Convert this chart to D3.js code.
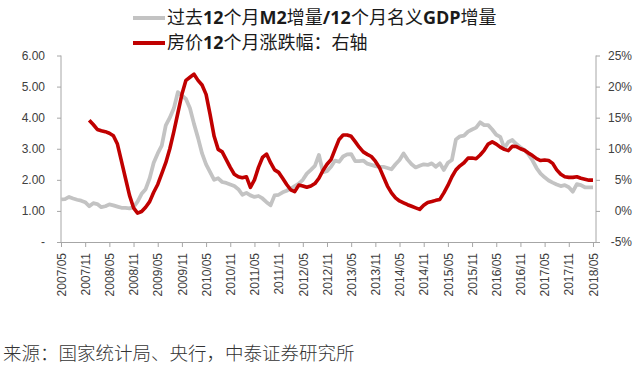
<!DOCTYPE html>
<html><head><meta charset="utf-8">
<script src="https://cdn.jsdelivr.net/npm/d3@7"></script>
<style>body{margin:0;background:#fff}svg{display:block}</style>
</head><body>
<svg id="c" width="640" height="372"></svg>
<script>
// ---- data ----
const xTickLabels = ["2007/05","2007/11","2008/05","2008/11","2009/05","2009/11","2010/05","2010/11","2011/05","2011/11","2012/05","2012/11","2013/05","2013/11","2014/05","2014/11","2015/05","2015/11","2016/05","2016/11","2017/05","2017/11","2018/05"];
const startMonth = "2007/05";
// M2 increment / nominal GDP increment (left axis), monthly from 2007/05
const m2Ratio = [1.37,1.38,1.45,1.40,1.36,1.33,1.28,1.15,1.25,1.22,1.12,1.15,1.21,1.18,1.14,1.10,1.10,1.08,1.12,1.30,
  1.55,1.70,2.05,2.55,2.85,3.10,3.75,4.00,4.30,4.82,4.72,4.60,4.30,3.80,3.35,2.85,2.50,2.25,2.00,2.05,
  1.93,1.90,1.85,1.80,1.70,1.52,1.58,1.50,1.45,1.48,1.40,1.28,1.18,1.50,1.52,1.60,1.65,1.72,1.80,1.88,
  2.00,2.20,2.32,2.45,2.80,2.25,2.28,2.42,2.62,2.58,2.75,2.82,2.83,2.60,2.60,2.62,2.52,2.48,2.44,2.42,
  2.42,2.38,2.34,2.50,2.64,2.85,2.65,2.50,2.40,2.45,2.50,2.48,2.53,2.42,2.53,2.32,2.55,2.64,3.30,3.40,
  3.42,3.55,3.62,3.68,3.85,3.76,3.76,3.62,3.45,3.38,3.02,3.22,3.28,3.15,3.05,2.96,2.82,2.62,2.38,2.20,
  2.08,1.98,1.91,1.85,1.80,1.83,1.76,1.62,1.86,1.83,1.76,1.76,1.76];
// house price 12-month change (%), right axis, monthly from 2007/12
const housePriceStart = 7;
const housePrice = [14.6,13.9,13.1,12.9,12.75,12.5,12.1,10.75,8.0,5.25,2.5,0.5,-0.35,-0.1,0.6,1.5,3.0,4.25,6.0,7.75,
  10.0,12.75,15.75,18.75,21.0,21.5,22.0,21.0,20.25,18.75,15.5,12.0,9.9,9.5,8.25,7.0,5.9,5.5,5.35,5.5,
  3.8,5.0,7.0,8.6,9.15,7.75,6.6,6.2,5.25,4.25,3.4,3.1,4.15,4.0,3.8,4.0,4.4,5.25,6.5,7.5,
  8.25,9.9,11.5,12.2,12.2,12.0,11.15,10.25,9.5,9.1,8.75,8.0,7.0,5.5,4.0,2.9,2.1,1.6,1.3,1.0,
  0.75,0.5,0.25,0.9,1.35,1.5,1.7,1.85,2.9,4.1,5.5,6.6,7.25,7.75,8.5,8.5,8.4,9.0,9.75,10.75,
  11.1,10.75,10.25,9.9,9.7,10.4,10.35,10.0,9.75,9.3,8.9,8.4,8.1,8.2,8.1,7.65,6.6,5.9,5.5,5.4,
  5.4,5.5,5.25,5.1,4.95,4.95];
const leftTicks = [0,1,2,3,4,5,6];
const leftTickLabels = ["-","1.00","2.00","3.00","4.00","5.00","6.00"];
const rightTicks = [-5,0,5,10,15,20,25];
const rightTickLabels = ["-5%","0%","5%","10%","15%","20%","25%"];
const legendLabels = ["过去12个月M2增量/12个月名义GDP增量","房价12个月涨跌幅：右轴"];
const sourceText = "来源：国家统计局、央行，中泰证券研究所";

// ---- chart ----
const svg = d3.select("#c");
const x = d3.scaleLinear().domain([0,132.75]).range([61,596]);
const yL = d3.scaleLinear().domain([0,6]).range([242,55.5]);
const yR = d3.scaleLinear().domain([-5,25]).range([242,55.5]);
const axisColor = "#a6a6a6";
const textColor = "#404040";
const font = "'Liberation Sans', Arial, sans-serif";

// left axis
const gL = svg.append("g").attr("transform","translate(61,0)")
  .call(d3.axisLeft(yL).tickValues(leftTicks).tickSize(4).tickPadding(12)
    .tickFormat((d,i)=>leftTickLabels[i]));
// right axis
const gR = svg.append("g").attr("transform","translate(596,0)")
  .call(d3.axisRight(yR).tickValues(rightTicks).tickSize(4).tickPadding(0)
    .tickFormat((d,i)=>rightTickLabels[i]));
gR.selectAll("text").attr("text-anchor","end").attr("x",36);
// bottom axis
const xTicks = xTickLabels.map((d,i)=>i*6);
const gB = svg.append("g").attr("transform","translate(0,242)")
  .call(d3.axisBottom(x).tickValues(xTicks).tickSize(5).tickSizeOuter(0)
    .tickFormat((d,i)=>xTickLabels[i]));
gB.selectAll("text").attr("transform","rotate(-90)").attr("text-anchor","end")
  .attr("x",-11).attr("y",0).attr("dy","0.35em").attr("dx",0);

[gL,gR,gB].forEach(g=>{
  g.selectAll("path,line").attr("stroke",axisColor).attr("stroke-width",1);
  g.selectAll("text").attr("fill",textColor).style("font-family",font).style("font-size","12px");
});
gL.select(".domain").attr("d","M0,242V55.5");
gR.select(".domain").attr("d","M0,242V55.5");

// lines
const lineL = d3.line().x((d,i)=>x(i)).y(d=>yL(d));
svg.append("path").datum(m2Ratio).attr("d",lineL)
  .attr("fill","none").attr("stroke","#c3c3c3").attr("stroke-width",3.8).attr("stroke-linejoin","round");
const lineR = d3.line().x((d,i)=>x(i+housePriceStart)).y(d=>yR(d));
svg.append("path").datum(housePrice).attr("d",lineR)
  .attr("fill","none").attr("stroke","#c00000").attr("stroke-width",3.6).attr("stroke-linejoin","round");

// legend
const legendColors = ["#c3c3c3","#c00000"];
const legY = [18,43];
legendLabels.forEach((lab,i)=>{
  svg.append("line").attr("x1",133).attr("x2",165).attr("y1",legY[i]).attr("y2",legY[i])
    .attr("stroke",legendColors[i]).attr("stroke-width",4);
  const t = svg.append("text").attr("x",167).attr("y",legY[i]).attr("dy","0.36em")
    .attr("fill","#1a1a1a").style("font-family","'Noto Sans CJK SC', sans-serif").style("font-size","18px");
  const parts = lab.match(/[A-Za-z0-9\/]+|[^A-Za-z0-9\/]+/g);
  parts.forEach(p=>{
    t.append("tspan").text(p).style("font-weight", /[A-Za-z0-9]/.test(p) ? "bold" : "normal")
      .style("font-family", /[A-Za-z0-9\/]/.test(p) ? "'Open Sans', sans-serif" : "'Noto Sans CJK SC', sans-serif");
  });
});

// source
svg.append("text").attr("x",3).attr("y",353).attr("dy","0.36em").text(sourceText)
  .attr("fill","#333").style("font-family","'Noto Sans CJK SC', sans-serif").style("font-size","18.5px").style("font-weight","300");
</script>
</body></html>
